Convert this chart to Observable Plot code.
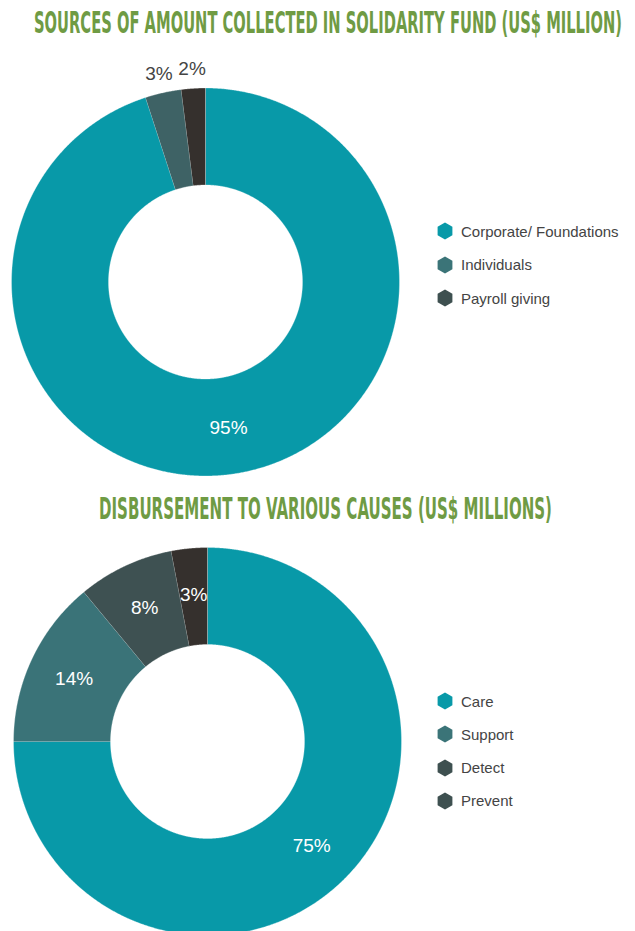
<!DOCTYPE html>
<html>
<head>
<meta charset="utf-8">
<script src="https://cdn.jsdelivr.net/npm/d3@7"></script>
<script src="https://cdn.jsdelivr.net/npm/@observablehq/plot@0.6"></script>
<style>
  html, body { margin: 0; padding: 0; background: #fff; }
  body { width: 635px; height: 931px; position: relative; overflow: hidden; font-family: "Liberation Sans", Arimo, Helvetica, Arial, sans-serif; }
  .title { position: absolute; white-space: nowrap; font-family: "Liberation Sans Narrow", "DejaVu Sans Condensed", sans-serif; font-weight: bold; font-size: 31px; color: #6f9b44; transform-origin: 0 50%; line-height: 1; }
  .chart { position: absolute; left: 0; }
  .legend { position: absolute; font-size: 15px; color: #444; }
  .legend .row { display: flex; align-items: center; height: 20px; position: absolute; left: 0; white-space: nowrap; }
  .legend svg { margin-right: 8px; }
</style>
</head>
<body>
<script>
// ---- data ----
const title1 = "SOURCES OF AMOUNT COLLECTED IN SOLIDARITY FUND (US$ MILLION)";
const sources = ["Corporate/ Foundations", "Individuals", "Payroll giving"];
const sourceValues = [95, 3, 2];
const sourceSliceColors = ["#0899a8", "#3e6265", "#35302d"];
const sourceLegendColors = ["#0899a8", "#3b7478", "#3e5050"];

const title2 = "DISBURSEMENT TO VARIOUS CAUSES (US$ MILLIONS)";
const causes = ["Care", "Support", "Detect", "Prevent"];
const causeValues = [75, 14, 8, 3];
const causeSliceColors = ["#0899a8", "#3a7378", "#3e5152", "#35302d"];
const causeLegendColors = ["#0899a8", "#3b7478", "#3e5050", "#3e5050"];

// ---- helpers ----
const INNER = 0.5;
function slices(labels, values) {
  const total = d3.sum(values);
  let acc = 0;
  const pts = [];
  const lab = [];
  labels.forEach((name, i) => {
    const a0 = acc / total * 2 * Math.PI;
    acc += values[i];
    const a1 = acc / total * 2 * Math.PI;
    const n = Math.max(2, Math.ceil((a1 - a0) / 0.005) + 1);
    for (let k = 0; k < n; k++) {
      const a = a0 + (a1 - a0) * k / (n - 1);
      pts.push({name, x: Math.sin(a), y: Math.cos(a)});
    }
    for (let k = n - 1; k >= 0; k--) {
      const a = a0 + (a1 - a0) * k / (n - 1);
      pts.push({name, x: INNER * Math.sin(a), y: INNER * Math.cos(a)});
    }
    lab.push({name, value: values[i], mid: (a0 + a1) / 2});
  });
  return {pts, lab};
}

function donut({labels, values, colors, cx, cy, R, height, top, outside}) {
  const {pts, lab} = slices(labels, values);
  const labelPos = lab.map(d => {
    const out = outside(d.value);
    const r = out ? 1.1 : 0.76;
    return {...d, out, x: r * Math.sin(d.mid), y: r * Math.cos(d.mid), text: d.value + "%"};
  });
  const plot = Plot.plot({
    width: 635, height,
    margin: 0,
    x: {domain: [-1, 1], range: [cx - R, cx + R], axis: null},
    y: {domain: [-1, 1], range: [cy + R, cy - R], axis: null},
    color: {domain: labels, range: colors},
    style: {fontFamily: "'Liberation Sans', Arimo, Helvetica, Arial, sans-serif", overflow: "visible", background: "transparent"},
    marks: [
      Plot.line(pts, {x: "x", y: "y", z: "name", fill: "name", stroke: "#ffffff", strokeWidth: 0.5, strokeOpacity: 0.6}),
      Plot.text(labelPos, {x: "x", y: "y", text: "text", fill: d => d.out ? "#444444" : "#ffffff", fontSize: 19})
    ]
  });
  plot.classList.add("chart");
  plot.style.top = top + "px";
  document.body.appendChild(plot);
}

function legend(labels, colors, left, top, step) {
  const div = document.createElement("div");
  div.className = "legend";
  div.style.left = left + "px";
  div.style.top = top + "px";
  labels.forEach((name, i) => {
    const row = document.createElement("div");
    row.className = "row";
    row.style.top = (i * step) + "px";
    row.innerHTML = `<svg width="16" height="18" viewBox="-8 -9 16 18"><polygon points="0,-8.5 7.4,-4.25 7.4,4.25 0,8.5 -7.4,4.25 -7.4,-4.25" fill="${colors[i]}"/></svg><span>${name}</span>`;
    div.appendChild(row);
  });
  document.body.appendChild(div);
}

function title(text, x0, x1, cy) {
  const t = document.createElement("div");
  t.className = "title";
  t.textContent = text;
  document.body.appendChild(t);
  const r = t.getBoundingClientRect();
  const s = (x1 - x0) / r.width;
  t.style.left = x0 + "px";
  t.style.top = (cy - r.height / 2) + "px";
  t.style.transform = `scaleX(${s})`;
}

// ---- draw ----
donut({labels: sources, values: sourceValues, colors: sourceSliceColors, cx: 205, cy: 281.5, R: 194, height: 480, top: 0, outside: v => v < 5});
donut({labels: causes, values: causeValues, colors: causeSliceColors, cx: 207, cy: 261, R: 194, height: 451, top: 480, outside: v => false});
legend(sources, sourceLegendColors, 437, 221, 33.5);
legend(causes, causeLegendColors, 437, 691, 33.3);
title(title1, 34, 622, 22);
title(title2, 99, 552, 508);
</script>
</body>
</html>
